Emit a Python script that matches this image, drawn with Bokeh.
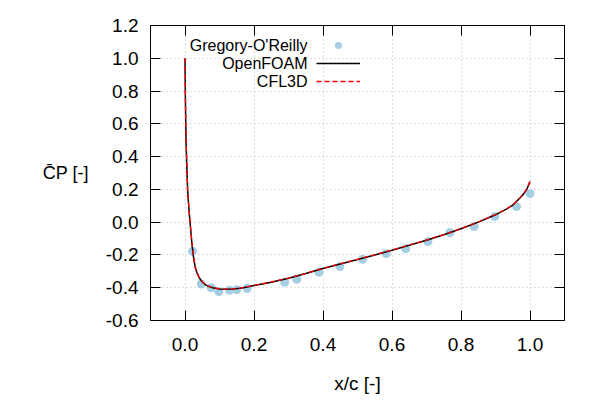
from bokeh.plotting import figure
from bokeh.models import Range1d, LinearAxis, FixedTicker, Label, Legend, LegendItem
from bokeh.embed import file_html
from bokeh.resources import INLINE
from bokeh.core.properties import value

# Experimental data (Gregory-O'Reilly)
exp_x = [0.022, 0.047, 0.076, 0.098, 0.129, 0.150, 0.180, 0.289, 0.324, 0.388,
         0.449, 0.515, 0.583, 0.640, 0.704, 0.768, 0.838, 0.898, 0.961, 1.000]
exp_cp = [-0.178, -0.377, -0.400, -0.424, -0.416, -0.412, -0.405, -0.367, -0.349, -0.306,
          -0.271, -0.227, -0.192, -0.162, -0.119, -0.064, -0.027, 0.034, 0.095, 0.174]

# OpenFOAM
of_x = [0.0, 0.0005, 0.001, 0.002, 0.003, 0.005, 0.0075, 0.01, 0.0125, 0.015, 0.02,
        0.025, 0.03, 0.035, 0.04, 0.05, 0.06, 0.07, 0.08, 0.10, 0.12, 0.14, 0.16, 0.18,
        0.20, 0.25, 0.30, 0.35, 0.40, 0.45, 0.50, 0.55, 0.60, 0.65, 0.70, 0.75, 0.80,
        0.85, 0.90, 0.93, 0.95, 0.97, 0.98, 0.99, 1.0]
of_cp = [1.0, 0.90, 0.78, 0.62, 0.50, 0.36, 0.20, 0.12, 0.05, -0.01, -0.13,
         -0.22, -0.28, -0.31, -0.335, -0.365, -0.383, -0.393, -0.400, -0.408, -0.410, -0.408, -0.403, -0.396,
         -0.387, -0.366, -0.342, -0.313, -0.283, -0.255, -0.228, -0.200, -0.171, -0.141, -0.110, -0.077, -0.040,
         0.000, 0.045, 0.078, 0.104, 0.146, 0.168, 0.198, 0.245]

# CFL3D
cfl_x = [0.0, 0.0005, 0.001, 0.002, 0.003, 0.005, 0.0075, 0.01, 0.0125, 0.015, 0.02,
         0.025, 0.03, 0.035, 0.04, 0.05, 0.06, 0.07, 0.08, 0.10, 0.12, 0.14, 0.16, 0.18,
         0.20, 0.25, 0.30, 0.35, 0.40, 0.45, 0.50, 0.55, 0.60, 0.65, 0.70, 0.75, 0.80,
         0.85, 0.90, 0.93, 0.95, 0.97, 0.98, 0.99, 1.0]
cfl_cp = [1.0, 0.91, 0.79, 0.63, 0.51, 0.37, 0.21, 0.125, 0.055, -0.005, -0.125,
          -0.215, -0.275, -0.307, -0.333, -0.363, -0.382, -0.392, -0.399, -0.407, -0.409, -0.407, -0.402, -0.395,
          -0.386, -0.365, -0.341, -0.312, -0.282, -0.254, -0.227, -0.199, -0.170, -0.140, -0.109, -0.076, -0.039,
          0.001, 0.046, 0.079, 0.105, 0.147, 0.170, 0.201, 0.250]

x_ticks = [0.0, 0.2, 0.4, 0.6, 0.8, 1.0]
x_tick_labels = ["0.0", "0.2", "0.4", "0.6", "0.8", "1.0"]
y_ticks = [-0.6, -0.4, -0.2, 0.0, 0.2, 0.4, 0.6, 0.8, 1.0, 1.2]
y_tick_labels = ["-0.6", "-0.4", "-0.2", "0.0", "0.2", "0.4", "0.6", "0.8", "1.0", "1.2"]
legend_labels = ["Gregory-O'Reilly", "OpenFOAM", "CFL3D"]

FONT = "Liberation Sans"
TICK_SIZE = "19px"

p = figure(width=600, height=400, output_backend="svg", toolbar_location=None,
           x_range=Range1d(-0.1, 1.1), y_range=Range1d(-0.6, 1.2),
           min_border_left=150, min_border_right=36, min_border_top=25, min_border_bottom=80)
p.background_fill_color = "white"
p.border_fill_color = "white"
p.outline_line_color = "black"
p.outline_line_width = 1
p.outline_line_alpha = 1

for grid, ticks in ((p.xgrid[0], x_ticks), (p.ygrid[0], y_ticks)):
    grid.ticker = FixedTicker(ticks=ticks)
    grid.grid_line_color = "#c0c0c0"
    grid.grid_line_dash = "1 3"
    grid.grid_line_width = 1


def style_axis(ax, ticks, labels, show):
    ax.ticker = FixedTicker(ticks=ticks)
    ax.major_label_overrides = {t: (l if show else "") for t, l in zip(ticks, labels)}
    ax.major_tick_in = 10
    ax.major_tick_out = 0
    ax.major_tick_line_color = "black"
    ax.minor_tick_line_color = None
    ax.axis_line_color = "black"
    ax.major_label_text_font = FONT
    ax.major_label_text_font_size = TICK_SIZE
    ax.major_label_text_color = "black"


style_axis(p.xaxis[0], x_ticks, x_tick_labels, True)
style_axis(p.yaxis[0], y_ticks, y_tick_labels, True)
p.xaxis[0].major_label_standoff = 17
p.yaxis[0].major_label_standoff = 12
p.xaxis[0].axis_label = "x/c [-]"
p.xaxis[0].axis_label_text_font = FONT
p.xaxis[0].axis_label_text_font_size = TICK_SIZE
p.xaxis[0].axis_label_text_font_style = "normal"
p.xaxis[0].axis_label_text_color = "black"
p.xaxis[0].axis_label_standoff = 19

yax = p.yaxis[0]
yax.axis_label = "C\u0304P [-]"
yax.axis_label_text_font = FONT
yax.axis_label_text_font_size = "18px"
yax.axis_label_text_font_style = "normal"
yax.axis_label_text_color = "black"
yax.axis_label_standoff = 14
try:
    yax.axis_label_orientation = "horizontal"
except Exception:
    pass

right_ax = LinearAxis()
style_axis(right_ax, y_ticks, y_tick_labels, False)
right_ax.major_label_standoff = 0
p.add_layout(right_ax, "right")
top_ax = LinearAxis()
style_axis(top_ax, x_ticks, x_tick_labels, False)
top_ax.major_label_standoff = 0
p.add_layout(top_ax, "above")

r_exp = p.scatter(exp_x, exp_cp, size=9, fill_color="#a6cee3", line_color=None)
r_of = p.line(of_x, of_cp, line_color="black", line_width=1.5)
r_cfl = p.line(cfl_x, cfl_cp, line_color="#ff0000", line_width=1.3, line_dash="5 3")

legend = Legend(items=[LegendItem(label=value(""), renderers=[r]) for r in (r_exp, r_of, r_cfl)],
                location=(166, 230), glyph_width=44, glyph_height=18,
                label_width=0, label_height=0, label_standoff=0, label_text_font_size="1px",
                padding=0, spacing=0, margin=0, border_line_color=None,
                background_fill_alpha=0)
p.add_layout(legend)

for i, txt in enumerate(legend_labels):
    p.add_layout(Label(x=157, y=275 - 18 * i, x_units="screen", y_units="screen", text=txt,
                       text_align="right", text_baseline="middle", text_font=FONT,
                       text_font_size="16px", text_color="black"))

open("out.html", "w").write(file_html(p, INLINE))
